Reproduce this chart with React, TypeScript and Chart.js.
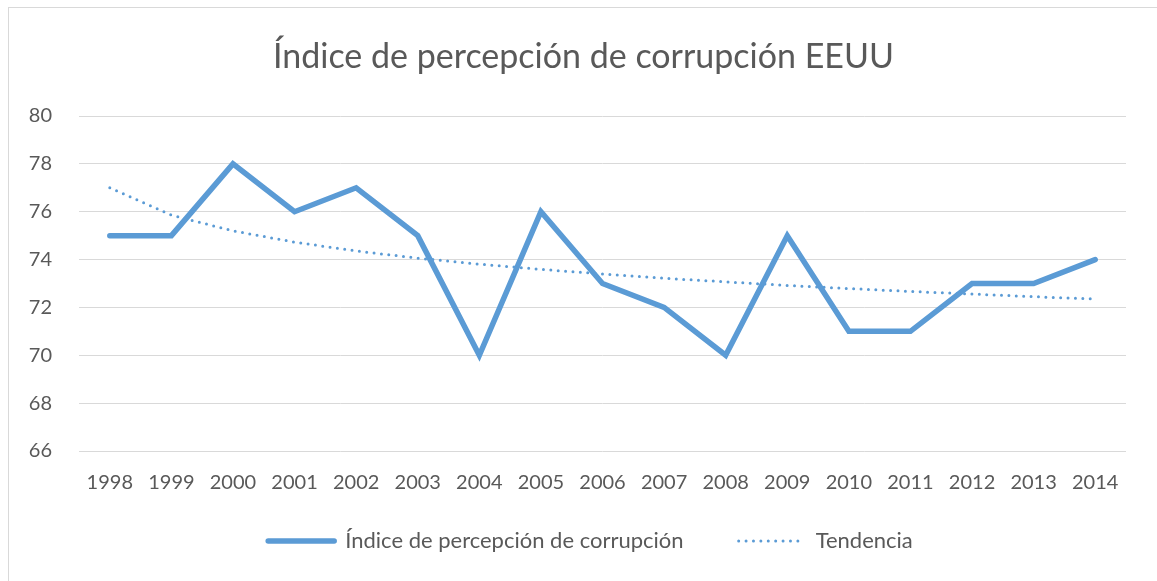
import React, { useEffect, useRef } from "react";
import { Chart, registerables } from "chart.js";

Chart.register(...registerables);

const years = ["1998", "1999", "2000", "2001", "2002", "2003", "2004", "2005", "2006", "2007", "2008", "2009", "2010", "2011", "2012", "2013", "2014"];
const indexValues = [75, 75, 78, 76, 77, 75, 70, 76, 73, 72, 70, 75, 71, 71, 73, 73, 74];
const trendValues = [77.0, 75.86, 75.2, 74.73, 74.36, 74.06, 73.81, 73.59, 73.4, 73.22, 73.07, 72.92, 72.79, 72.67, 72.56, 72.45, 72.35];
const yMin = 66;
const yMax = 80;
const yStep = 2;

const TITLE = "Índice de percepción de corrupción EEUU";
const SERIES_LABEL = "Índice de percepción de corrupción";
const TREND_LABEL = "Tendencia";

const BLUE = "#5b9bd5";
const TEXT = "#595959";
const GRID = "#d9d9d9";
const FONT = "Lato, 'Noto Sans', sans-serif";

const MAIN_WIDTH = 5.5;
const TREND_WIDTH = 3;
const TREND_DASH = [0, 7.4];
const LEGEND_SHIFT = 7;

const legendNudge = {
  id: "legendNudge",
  afterLayout(chart: any) {
    const lg = chart.legend;
    if (lg) {
      lg.left += LEGEND_SHIFT;
      lg.right += LEGEND_SHIFT;
    }
  },
};

export default function App() {
  const ref = useRef<HTMLCanvasElement>(null);

  useEffect(() => {
    Chart.defaults.font.family = FONT;
    const chart = new Chart(ref.current as HTMLCanvasElement, {
      type: "line",
      data: {
        labels: years,
        datasets: [
          {
            label: SERIES_LABEL,
            data: indexValues,
            borderColor: BLUE,
            backgroundColor: BLUE,
            borderWidth: MAIN_WIDTH,
            borderJoinStyle: "miter",
            borderCapStyle: "round",
            pointRadius: 0,
            pointHoverRadius: 0,
            tension: 0,
            fill: false,
          },
          {
            label: TREND_LABEL,
            data: trendValues,
            borderColor: BLUE,
            backgroundColor: BLUE,
            borderWidth: TREND_WIDTH,
            borderDash: TREND_DASH,
            borderCapStyle: "round",
            pointRadius: 0,
            pointHoverRadius: 0,
            tension: 0,
            fill: false,
          },
        ],
      },
      plugins: [legendNudge],
      options: {
        responsive: false,
        devicePixelRatio: 1,
        animation: false,
        layout: { padding: { top: 0, left: 10, right: 0, bottom: 19 } },
        plugins: {
          tooltip: { enabled: false },
          title: {
            display: true,
            text: TITLE,
            color: TEXT,
            font: { size: 34, weight: "normal", family: FONT },
            padding: { top: 36.6, bottom: 38.6 },
          },
          legend: {
            display: true,
            position: "bottom",
            labels: {
              color: TEXT,
              font: { size: 22, family: FONT },
              usePointStyle: true,
              pointStyle: "line",
              pointStyleWidth: 66,
              padding: 10,
              generateLabels: (c: any) =>
                c.data.datasets.map((ds: any, i: number) => ({
                  text: i === 0 ? ds.label + "        " : ds.label,
                  fillStyle: BLUE,
                  strokeStyle: BLUE,
                  fontColor: TEXT,
                  lineWidth: i === 0 ? MAIN_WIDTH : TREND_WIDTH,
                  lineCap: "round",
                  lineDash: i === 0 ? [] : TREND_DASH,
                  lineDashOffset: 0,
                  lineJoin: "round",
                  pointStyle: "line",
                  rotation: 0,
                  hidden: false,
                  datasetIndex: i,
                })),
            },
          },
        },
        scales: {
          x: {
            offset: true,
            grid: { display: false, drawTicks: false },
            border: { display: false },
            ticks: {
              color: TEXT,
              font: { size: 20 },
              padding: 20,
              maxRotation: 0,
              autoSkip: false,
            },
            afterFit: (s: any) => {
              s.height = 69;
            },
          },
          y: {
            min: yMin,
            max: yMax,
            grid: { color: GRID, lineWidth: 1, drawTicks: false },
            border: { display: false },
            ticks: {
              stepSize: yStep,
              color: TEXT,
              font: { size: 20 },
              padding: 27,
            },
            afterFit: (s: any) => {
              s.width = 69;
            },
          },
          yRight: {
            type: "linear",
            position: "right",
            display: true,
            grid: { display: false, drawTicks: false },
            border: { display: false },
            ticks: { display: false },
            afterFit: (s: any) => {
              s.width = 31;
            },
          },
        },
      },
    });
    return () => chart.destroy();
  }, []);

  return (
    <div
      style={{
        position: "fixed",
        left: 0,
        top: 0,
        width: 1157,
        height: 581,
        overflow: "hidden",
        background: "#fff",
      }}
    >
      <div
        style={{
          position: "absolute",
          left: 8,
          top: 7,
          width: 2000,
          height: 2000,
          border: `1px solid ${GRID}`,
          boxSizing: "border-box",
        }}
      />
      <canvas
        ref={ref}
        width={1157}
        height={581}
        style={{ position: "absolute", left: 0, top: 0, width: 1157, height: 581 }}
      />
    </div>
  );
}
